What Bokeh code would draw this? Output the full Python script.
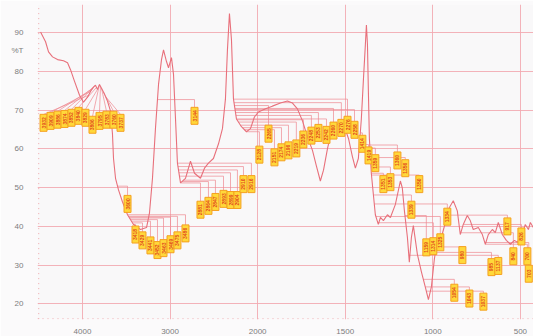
import numpy as np
from bokeh.plotting import figure
from bokeh.models import Range1d, FixedTicker, ColumnDataSource
from bokeh.embed import file_html
from bokeh.resources import INLINE
from bokeh.core.properties import value

# ---------------- data ----------------
SPEC_WN = [4479,4422,4388,4342,4285,4217,4171,4137,4091,4034,
           3989,3943,3909,3874,3852,3829,3806,3783,3749,3715,
           3680,3658,3646,3623,3589,3543,3486,3418,3338,3269,
           3235,3201,3167,3132,3098,3075,3041,3018,2984,2961,
           2938,2916,2881,2824,2767,2721,2653,2607,2562,2505,
           2447,2402,2368,2345,2322,2299,2276,2242,2185,2128,
           2082,2037,1995,1955,1916,1870,1830,1801,1773,1744,
           1716,1687,1664,1642,1624,1601,1579,1544,1510,1481,
           1459,1442,1425,1408,1396,1385,1379,1373,1368,1362,
           1351,1339,1328,1311,1299,1282,1259,1242,1214,1185,
           1174,1162,1145,1134,1122,1111,1088,1065,1043,1025,
           1008,991,974,951,928,906,883,860,843,826,
           803,786,769,740,717,700,683,660,643,626,
           603,580,557,534,517,500,489,472,454,443,
           426]
SPEC_T = [90.1,87.6,85.0,83.7,83.0,82.7,82.2,80.4,77.4,73.8,
          72.0,73.3,74.8,75.9,76.4,75.3,76.6,75.6,74.1,72.3,
          69.7,63.9,57.5,52.4,49.4,46.3,43.0,40.5,39.2,39.7,
          43.5,52.4,65.2,76.6,83.0,85.5,82.5,80.9,83.5,79.2,
          67.7,56.3,51.2,52.4,56.8,53.7,52.4,55.0,56.3,57.5,
          61.3,65.2,72.8,85.5,94.9,88.1,72.8,67.7,65.7,64.4,
          65.2,68.2,69.5,70.3,71.0,71.8,72.3,71.8,70.3,67.2,
          63.1,59.6,55.5,51.7,54.5,60.1,64.4,66.4,66.4,62.6,
          58.0,55.0,57.5,67.7,77.9,86.8,91.9,86.8,75.3,62.6,
          53.7,48.1,43.0,40.5,42.3,41.5,43.0,42.3,45.6,51.7,
          49.9,44.0,37.2,30.8,37.2,40.2,32.8,28.3,24.4,21.1,
          24.4,31.6,36.4,37.2,41.0,44.8,46.6,44.0,37.9,40.5,
          42.8,41.5,39.2,39.7,37.9,35.4,37.9,39.2,38.4,41.0,
          37.9,36.4,35.4,36.4,35.9,37.2,37.9,40.5,39.2,41.0,
          39.7]

TICK_WN = [4000, 3000, 2000, 1500, 1000, 500]
TICK_LABELS = ["4000", "3000", "2000", "1500", "1000", "500"]
T_TICKS = [20, 30, 40, 50, 60, 70, 80, 90]
T_UNIT_LABEL = "%T"
T_UNIT_AT = 85.3

# peak labels fanned from the 3900-3700 band (label wn, label %T, peak wn)
FAN_LABEL_WN = [4445, 4365, 4285, 4205, 4126, 4046, 3966, 3886, 3806, 3726, 3646, 3566]
FAN_LABEL_T = [66.7, 67.2, 67.5, 67.7, 68.0, 68.5, 68.0, 66.2, 67.2, 67.5, 67.5, 66.7]
FAN_PEAK_WN = [3932, 3909, 3886, 3874, 3852, 3840, 3829, 3806, 3795, 3783, 3760, 3737]

# other peak labels (label wn, label %T, peak wn)
LAB_WN = [3486,
          3395, 3315, 3224, 3144, 3075, 2995, 2916, 2824,
          2721,
          2653, 2562, 2482, 2390, 2310, 2231, 2162, 2071,
          1990, 1938, 1904, 1864, 1824, 1779, 1739, 1693, 1653, 1607, 1567, 1522, 1487, 1447,
          1402, 1367, 1328, 1282, 1242, 1202, 1157, 1077, 1122, 1037, 997, 957, 917,
          831, 665, 626, 574, 540, 494, 460, 452, 877, 791, 711]
LAB_T = [45.8,
         37.9, 36.4, 35.1, 33.9, 34.4, 35.4, 36.4, 38.2,
         68.5,
         44.3, 45.3, 46.3, 47.1, 46.8, 46.8, 50.9, 50.9,
         58.5, 63.9, 57.8, 59.1, 59.6, 60.1, 62.4, 63.4, 64.1, 63.6, 64.7, 65.4, 66.2, 64.9,
         61.3, 58.3, 56.3, 50.9, 51.4, 57.0, 55.0, 50.9, 44.3, 34.6, 34.9, 35.9, 42.5,
         32.6, 29.5, 29.8, 40.0, 32.3, 37.4, 32.3, 27.8, 22.9, 21.4, 20.6]
LAB_PEAK_WN = [3600,
               3418, 3429, 3441, 3452, 3463, 3469, 3475, 3486,
               3144,
               2881, 2864, 2847, 2893, 2899, 2904, 2910, 2916,
               2128, 2265, 2151, 2174, 2196, 2219, 2236, 2248, 2253, 2242, 2260, 2270, 2276, 2258,
               1414, 1419, 1359, 1351, 1353, 1360, 1356, 1350, 1339, 1159, 1314, 1325, 1334,
               980, 985, 1137, 917, 840, 826, 700, 703, 1054, 1043, 1037]


def to_u(w):
    """IR chart x-scale: 1000 cm-1 per division above 2000, 500 below."""
    w = np.asarray(w, dtype=float)
    return np.where(w >= 2000, (4000.0 - w) / 1000.0, 2.0 + (2000.0 - w) / 500.0)


def t_at(w):
    return np.interp(np.asarray(w, float), SPEC_WN[::-1], SPEC_T[::-1])


# ---------------- figure ----------------
Y0, Y1 = 16.0, 97.2
p = figure(width=533, height=336, x_range=Range1d(-0.514, 5.15), y_range=Range1d(Y0, Y1),
           output_backend="svg", toolbar_location=None,
           min_border_left=37, min_border_right=0, min_border_top=4, min_border_bottom=0)
p.background_fill_color = "#f9f8f9"
p.border_fill_color = "#fbfafb"
p.outline_line_color = None

tick_u = [float(v) for v in to_u(TICK_WN)]
p.xaxis.ticker = FixedTicker(ticks=tick_u)
p.xaxis.major_label_overrides = {u: lab for u, lab in zip(tick_u, TICK_LABELS)}
p.yaxis.ticker = FixedTicker(ticks=T_TICKS + [T_UNIT_AT])
p.yaxis.major_label_overrides = {T_UNIT_AT: T_UNIT_LABEL}
for ax in (p.xaxis, p.yaxis):
    ax.axis_line_color = None
    ax.major_tick_line_color = None
    ax.minor_tick_line_color = None
    ax.major_label_text_font = "Liberation Sans"
    ax.major_label_text_font_size = "8px"
    ax.major_label_text_color = "#7d7d7d"
p.xaxis.major_label_standoff = 3
p.yaxis.major_label_standoff = 8

p.xgrid.ticker = FixedTicker(ticks=tick_u)
p.ygrid.ticker = FixedTicker(ticks=T_TICKS)
p.grid.grid_line_color = "#f2aab1"
p.grid.grid_line_width = 1
p.grid.grid_line_alpha = 0.9

# dotted frame edges (left / bottom)
p.segment(x0=[-0.5, -0.514], y0=[Y0 + 0.1, Y0 + 0.2], x1=[-0.5, 5.15], y1=[Y1, Y0 + 0.2],
          line_color="#f0a8ae", line_width=1, line_dash="1 4")

px_per_t = (323 - 4) / (Y1 - Y0)
half_box = 8.5 / px_per_t

# leaders
xs, ys = [], []
for lw, lt, pw in zip(FAN_LABEL_WN, FAN_LABEL_T, FAN_PEAK_WN):
    xs.append([float(to_u(pw)), float(to_u(lw))])
    ys.append([float(t_at(pw)), lt + half_box])
for lw, lt, pw in zip(LAB_WN, LAB_T, LAB_PEAK_WN):
    pu, lu, pt = float(to_u(pw)), float(to_u(lw)), float(t_at(pw))
    xs.append([pu, lu, lu])
    ys.append([pt, pt, lt + half_box])
p.multi_line(xs=xs, ys=ys, line_color="#ee8a93", line_width=0.8, line_alpha=0.9)

# spectrum
p.line(to_u(SPEC_WN), SPEC_T, line_color="#e8707b", line_width=1.1)

# labels
all_wn = FAN_LABEL_WN + LAB_WN
all_t = FAN_LABEL_T + LAB_T
all_pk = FAN_PEAK_WN + LAB_PEAK_WN
src = ColumnDataSource(dict(x=to_u(all_wn), y=all_t, txt=[str(v) for v in all_pk]))
p.rect(x="x", y="y", width=7, height=17, width_units="screen", height_units="screen",
       source=src, fill_color="#ffd83a", line_color="#f5a020", line_width=1)
p.text(x="x", y="y", text="txt", source=src, angle=np.pi / 2, text_align="center",
       text_baseline="middle", text_font=value("Liberation Sans"), text_font_size="5px",
       text_font_style="bold", text_color="#e24a1c")

open("out.html", "w").write(file_html(p, INLINE))
